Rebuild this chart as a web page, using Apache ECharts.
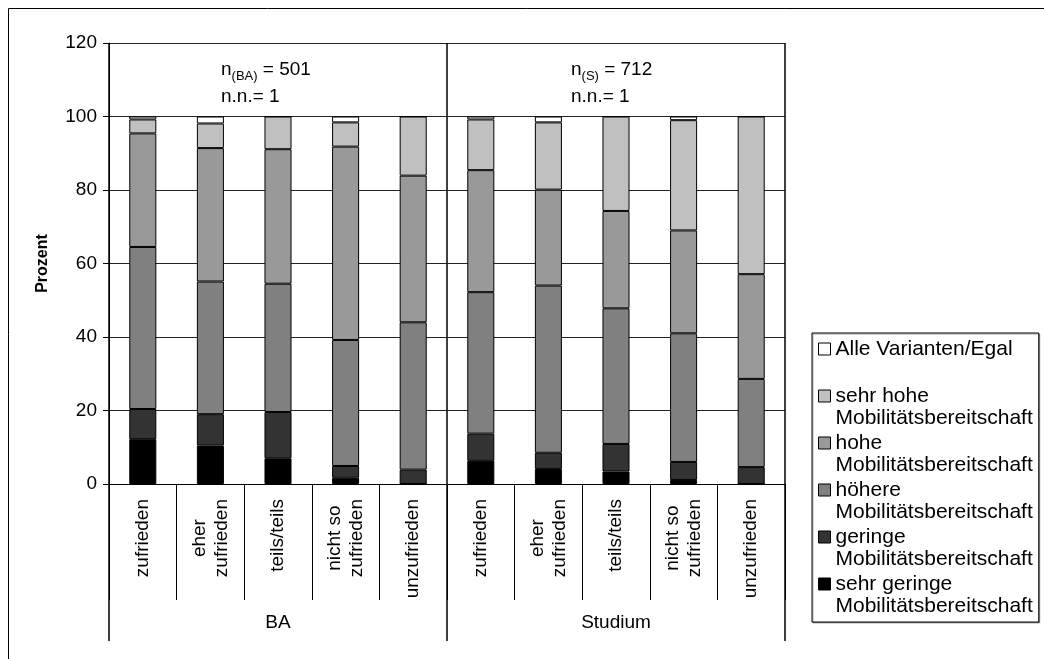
<!DOCTYPE html>
<html>
<head>
<meta charset="utf-8">
<title>Mobilitätsbereitschaft nach Zufriedenheit</title>
<script src="https://cdn.jsdelivr.net/npm/echarts@6/dist/echarts.min.js"></script>
<style>
  html, body { margin: 0; padding: 0; background: #fff; }
  #chart { width: 1044px; height: 659px; }
</style>
</head>
<body>
<div id="chart"></div>
<script>
// Satisfaction categories, shown once per group (BA / Studium)
const categories = [
  'zufrieden', 'eher\nzufrieden', 'teils/teils', 'nicht so\nzufrieden', 'unzufrieden',
  'zufrieden', 'eher\nzufrieden', 'teils/teils', 'nicht so\nzufrieden', 'unzufrieden'
];
const groups = ['BA', 'Studium'];
const groupSubscripts = ['BA', 'S'];
const sampleSizes = [501, 712];
const missingCounts = [1, 1];

// Shares in percent, stacked from bottom to top
const sehrGering = [12.2, 10.5, 7.0, 1.7, 0.0, 6.3, 4.1, 3.4, 1.1, 0.0];
const gering     = [8.2, 8.5, 12.6, 3.2, 3.9, 7.4, 4.4, 7.5, 4.9, 4.6];
const hoehere    = [44.1, 36.1, 34.9, 34.3, 40.1, 38.5, 45.5, 36.9, 35.0, 24.0];
const hohe       = [30.9, 36.3, 36.6, 52.6, 39.9, 33.2, 26.1, 26.5, 28.0, 28.5];
const sehrHohe   = [3.8, 6.7, 8.9, 6.6, 16.1, 13.8, 18.3, 25.7, 30.0, 42.9];
const egal       = [0.8, 1.9, 0.0, 1.6, 0.0, 0.8, 1.6, 0.0, 1.0, 0.0];

const seriesNames = [
  'sehr geringe Mobilitätsbereitschaft',
  'geringe Mobilitätsbereitschaft',
  'höhere Mobilitätsbereitschaft',
  'hohe Mobilitätsbereitschaft',
  'sehr hohe Mobilitätsbereitschaft',
  'Alle Varianten/Egal'
];
const legendLabels = [
  'sehr geringe\nMobilitätsbereitschaft',
  'geringe\nMobilitätsbereitschaft',
  'höhere\nMobilitätsbereitschaft',
  'hohe\nMobilitätsbereitschaft',
  'sehr hohe\nMobilitätsbereitschaft',
  'Alle Varianten/Egal\n '
];
const seriesValues = [sehrGering, gering, hoehere, hohe, sehrHohe, egal];
const seriesColors = ['#000000', '#333333', '#808080', '#999999', '#c0c0c0', '#ffffff'];

const FONT = "'Liberation Sans', Arial, sans-serif";

const chart = echarts.init(document.getElementById('chart'), null, { renderer: 'canvas' });

const series = seriesValues.map((values, i) => ({
  name: seriesNames[i],
  type: 'bar',
  stack: 'anteil',
  xAxisIndex: 0,
  barWidth: '40%',
  data: values,
  itemStyle: { color: seriesColors[i], borderColor: '#000', borderWidth: 1 },
  emphasis: { disabled: true },
  silent: true
}));

// Sample size notes above each group
const noteText = (i) =>
  '{m|n}{s|(' + groupSubscripts[i] + ')}{m| = ' + sampleSizes[i] + '}\n{m|n.n.= ' + missingCounts[i] + '}';
const noteRich = {
  m: { fontSize: 19, lineHeight: 27, fontFamily: FONT, color: '#000' },
  s: { fontSize: 13, lineHeight: 27, fontFamily: FONT, color: '#000', verticalAlign: 'bottom' }
};

chart.setOption({
  animation: false,
  backgroundColor: '#fff',
  textStyle: { fontFamily: FONT, color: '#000' },
  grid: { left: 109, right: 259, top: 43, bottom: 175, containLabel: false },
  xAxis: [
    {
      type: 'category',
      data: categories,
      position: 'bottom',
      axisLine: { show: true, lineStyle: { color: '#000', width: 1 } },
      axisTick: { show: true, interval: 0, length: 116, lineStyle: { color: '#000', width: 1 } },
      axisLabel: {
        interval: 0,
        rotate: 90,
        margin: 15,
        color: '#000',
        formatter: (v) => v.split('\n').map(s => '{c|' + s + '}').join('\n'),
        rich: { c: { align: 'center', fontSize: 19, lineHeight: 22, fontFamily: FONT, color: '#000' } }
      },
      splitLine: { show: false }
    },
    {
      type: 'category',
      data: groups,
      position: 'bottom',
      gridIndex: 0,
      axisLine: { show: false },
      axisTick: { show: true, interval: 0, length: 157, lineStyle: { color: '#000', width: 1.5 } },
      axisLabel: { interval: 0, margin: 129, fontSize: 19, color: '#000', fontFamily: FONT },
      splitLine: { show: true, interval: 0, lineStyle: { color: '#000', width: 1.5 } }
    }
  ],
  yAxis: {
    type: 'value',
    min: 0,
    max: 120,
    interval: 20,
    name: 'Prozent',
    nameLocation: 'middle',
    nameGap: 58,
    nameTextStyle: { fontSize: 16, fontWeight: 'bold', color: '#000', fontFamily: FONT },
    axisLine: { show: true, lineStyle: { color: '#000', width: 1 } },
    axisTick: { show: true, inside: false, length: 6, lineStyle: { color: '#000' } },
    axisLabel: { fontSize: 19, margin: 12, color: '#000', fontFamily: FONT },
    splitLine: { show: true, lineStyle: { color: '#222', width: 1 } }
  },
  legend: {
    orient: 'vertical',
    left: 812,
    top: 333,
    data: seriesNames.slice().reverse(),
    formatter: (name) => legendLabels[seriesNames.indexOf(name)],
    icon: 'path://M0,0h0M0,5.5h12v12h-12zM0,45h0',
    itemWidth: 12,
    itemHeight: 45,
    itemGap: 1,
    selectedMode: false,
    textStyle: { fontSize: 21, lineHeight: 22.5, color: '#000', fontFamily: FONT },
    itemStyle: { borderColor: '#000', borderWidth: 1 },
    backgroundColor: '#fff',
    borderColor: '#000',
    borderWidth: 1,
    padding: [4, 6, 4, 6],
    shadowColor: 'rgba(0,0,0,0.35)',
    shadowOffsetX: 1,
    shadowOffsetY: 1,
    shadowBlur: 0
  },
  graphic: [
    {
      type: 'rect',
      silent: true,
      z: -10,
      shape: { x: 8.5, y: 8.5, width: 1100, height: 700 },
      style: { fill: 'none', stroke: '#000', lineWidth: 1 }
    },
    {
      type: 'text',
      silent: true,
      x: 221,
      y: 56,
      style: { text: noteText(0), rich: noteRich, verticalAlign: 'top' }
    },
    {
      type: 'text',
      silent: true,
      x: 571,
      y: 56,
      style: { text: noteText(1), rich: noteRich, verticalAlign: 'top' }
    }
  ],
  series: series
});
</script>
</body>
</html>
